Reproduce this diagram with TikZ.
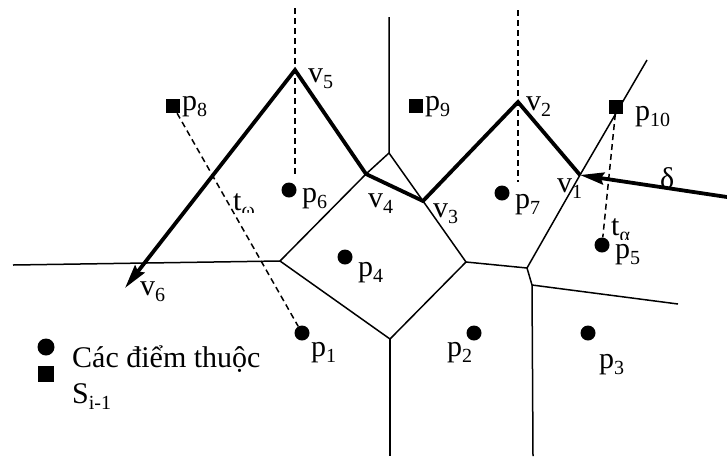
\documentclass[tikz,border=0pt]{standalone}
\usepackage{fontspec}
\setmainfont{Liberation Serif}
\usetikzlibrary{arrows.meta}
\newcommand\lsub[1]{\raisebox{-0.2em}{\fontsize{20}{20}\selectfont #1}}
\begin{document}
\begin{tikzpicture}[x=1pt,y=-1pt,
  vor/.style={line width=1.5pt},
  bis/.style={line width=1.5pt, dash pattern=on 6pt off 4pt},
  hull/.style={line width=3.8pt, line join=miter},
  tipA/.style={-{Stealth[length=24pt,width=12pt,inset=3pt]}},
  dot/.style={circle, fill, inner sep=0pt, minimum size=15pt},
  sq/.style={rectangle, fill, inner sep=0pt, minimum size=14pt},
  lab/.style={anchor=base west, inner sep=0pt, font=\fontsize{30}{32}\selectfont}]
\useasboundingbox (0,0) rectangle (727,456);
% Voronoi vertices
\coordinate (A) at (389,153);
\coordinate (B) at (280,261);
\coordinate (C) at (466,262);
\coordinate (D) at (390,339);
\coordinate (E) at (527,268);
\coordinate (G) at (532,285);
\coordinate (topA) at (389,17);
\coordinate (leftB) at (13,265);
\coordinate (botD) at (390,456);
\coordinate (botG) at (533,456);
\coordinate (rightG) at (678,304);
\coordinate (farE) at (647,60);
% hull vertices
\coordinate (v1) at (580,175);
\coordinate (v2) at (518,102);
\coordinate (v3) at (423,201);
\coordinate (v4) at (366,174);
\coordinate (v5) at (295,70);
\coordinate (v6) at (125,288);
\coordinate (dstart) at (727,197);
% dashed ends
\coordinate (b5top) at (295,8);
\coordinate (b5bot) at (295,177);
\coordinate (b2top) at (518,10);
\coordinate (b2bot) at (518,182);
% sites
\node[dot] (p1) at (302,333) {};
\node[dot] (p2) at (474,333) {};
\node[dot] (p3) at (588,333) {};
\node[dot] (p4) at (345,257) {};
\node[dot] (p5) at (602,245) {};
\node[dot] (p6) at (289,190) {};
\node[dot] (p7) at (502,193) {};
\node[sq] (p8) at (173,106) {};
\node[sq] (p9) at (416,106) {};
\node[sq] (p10) at (616,107) {};
% Voronoi edges
\draw[vor] (topA) -- (A) -- (v4) -- (B) -- (leftB);
\draw[vor] (A) -- (v3) -- (C) -- (D) -- (B);
\draw[vor] (D) -- (botD);
\draw[vor] (C) -- (E) -- (v1) -- (farE);
\draw[vor] (E) -- (G) -- (botG);
\draw[vor] (G) -- (rightG);
% dashed lines
\draw[bis] (b5top) -- (v5) -- (b5bot);
\draw[bis] (b2top) -- (v2) -- (b2bot);
\draw[bis] (p8) -- (p1);
\draw[bis] (p10) -- (p5);
% thick chain
\draw[hull, tipA] (v1) -- (v2) -- (v3) -- (v4) -- (v5) -- (v6);
\draw[hull, tipA] (dstart) -- (v1);
% labels
\node[lab] (lv5) at (308,82) {v\lsub{5}};
\node[lab] (lv2) at (526,110) {v\lsub{2}};
\node[lab] (lv1) at (557,192) {v\lsub{1}};
\node[lab] (lv4) at (368,207) {v\lsub{4}};
\node[lab] (lv3) at (433,217) {v\lsub{3}};
\node[lab] (lv6) at (140,295) {v\lsub{6}};
\node[lab] (lp8) at (182,110) {p\lsub{8}};
\node[lab] (lp9) at (425,110) {p\lsub{9}};
\node[lab] (lp10) at (635,120) {p\lsub{10}};
\node[lab] (lp6) at (302,202) {p\lsub{6}};
\node[lab] (lp7) at (515,208) {p\lsub{7}};
\node[lab] (lp5) at (615,258) {p\lsub{5}};
\node[lab] (lp4) at (358,276) {p\lsub{4}};
\node[lab] (lp1) at (311,356) {p\lsub{1}};
\node[lab] (lp2) at (447,356) {p\lsub{2}};
\node[lab] (lp3) at (599,368) {p\lsub{3}};
\node[lab] (ldelta) at (660,188) {δ};
\begin{scope}
\clip (200,150) rectangle (300,212);
\node[lab] (ltw) at (233,210) {t\lsub{ω}};
\end{scope}
\begin{scope}
\clip (600,200) rectangle (660,239);
\node[lab] (lta) at (611,235) {t\lsub{α}};
\end{scope}
% legend
\node[dot, minimum size=17pt] (legdot) at (46,347) {};
\node[sq, minimum size=16pt] (legsq) at (46,374) {};
\node[lab] (legt1) at (72,367) {Các điểm thuộc};
\node[lab] (legt2) at (72,403) {S\lsub{i-1}};
\end{tikzpicture}
\end{document}
